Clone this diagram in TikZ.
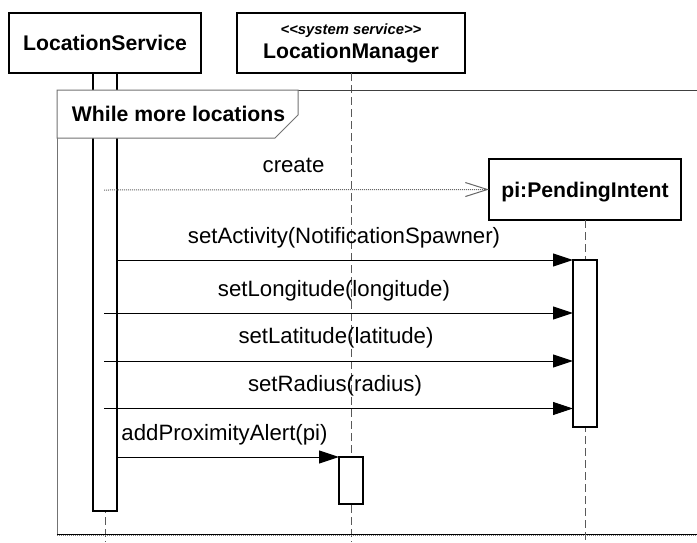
\documentclass[tikz,border=0pt]{standalone}
\usepackage{fontspec}
\setmainfont{Liberation Sans}
\usetikzlibrary{arrows.meta}
\begin{document}
\begin{tikzpicture}[x=1pt,y=-1pt,
  every node/.style={inner sep=0pt, outer sep=0pt},
  lifebox/.style={draw=black, line width=1.1pt, fill=white, text height=15pt, text depth=0pt,
    font=\fontsize{21.2}{24}\selectfont\bfseries},
  actbar/.style={draw=black, line width=1.1pt, fill=white, minimum width=24pt},
  lifeline/.style={draw=black!65, line width=1pt, dash pattern=on 8pt off 4pt},
  msg/.style={draw=black, line width=1pt, -{Triangle[length=20pt,width=13pt]}},
  createmsg/.style={draw=black!60, line width=1pt, dash pattern=on 1pt off 1pt,
    -{Straight Barb[length=22pt,width=14pt,line width=1pt]}},
  lbl/.style={anchor=base, font=\fontsize{22.2}{25}\selectfont},
  framebox/.style={draw=black!55, line width=1pt},
]
\useasboundingbox (0,0) rectangle (697,542);
\fill[white] (0,0) rectangle (697,542);

% lifeline heads
\node[lifebox, minimum width=192pt, minimum height=60pt] (ls) at (105,43) {LocationService};
\node[lifebox, minimum width=228pt, minimum height=60pt] (lm) at (351,43) {};
\node[anchor=base, font=\fontsize{14.8}{17}\selectfont\bfseries\itshape] (lmst) at (351,34.5)
  {<\kern0pt<system service>\kern0pt>};
\node[anchor=base, font=\fontsize{21.2}{24}\selectfont\bfseries] (lmname) at (351,58) {LocationManager};

% coordinates on the lifelines
\coordinate (lsend) at (105,542);
\coordinate (lmend) at (351,542);
\coordinate (piend) at (585,542);

% dashed lifelines
\draw[lifeline] (ls.south) -- (lsend);
\draw[lifeline] (lm.south) -- (lmend);

% activation bar of LocationService
\node[actbar, anchor=north, minimum height=438pt] (actls) at (ls.south) {};

% combined fragment frame
\coordinate (frTL) at (57,90);
\coordinate (frTR) at (697,90);
\coordinate (frBL) at (57,535);
\coordinate (frBR) at (697,535);
\draw[framebox] (frBL) -- (frTL);
\draw[draw=black!75, line width=1pt] (frTL) -- (frTR);
\draw[draw=black, line width=1.2pt] ([yshift=0.7pt]frBL) -- ([yshift=0.7pt]frBR);
\draw[draw=black!50, line width=1pt, dash pattern=on 1pt off 1pt] ([yshift=-0.9pt]frBL) -- ([yshift=-0.9pt]frBR);

% fragment label
\filldraw[framebox, fill=white] (frTL) -- (298,90) -- (298,115) -- (275,138) -- (57,138) -- cycle;
\node[anchor=base, font=\fontsize{21.2}{24}\selectfont\bfseries] (loop) at (178.5,121.5) {While more locations};

% created object
\node[lifebox, minimum width=192pt, minimum height=61pt] (pi) at (585,189.5) {pi:PendingIntent};
\draw[lifeline] (pi.south) -- (piend);
\node[actbar, anchor=north, minimum height=167pt] (actpi) at (585,260) {};

% LocationManager activation
\node[actbar, anchor=north, minimum height=47pt] (actlm) at (351,457) {};

% messages
\coordinate (mcreate) at (104,190);
\draw[createmsg] (mcreate) -- (pi.west);
\node[lbl] (tcreate) at (293.5,172) {create};

\draw[msg] (actpi.north west -| actls.east) -- (actpi.north west);
\node[lbl] (tact) at (344,243) {setActivity(NotificationSpawner)};

\coordinate (mlon) at (104,313);
\draw[msg] (mlon) -- (mlon -| actpi.west);
\node[lbl] (tlon) at (334,296) {setLongitude(longitude)};

\coordinate (mlat) at (104,361);
\draw[msg] (mlat) -- (mlat -| actpi.west);
\node[lbl] (tlat) at (336,343.5) {setLatitude(latitude)};

\coordinate (mrad) at (104,408.5);
\draw[msg] (mrad) -- (mrad -| actpi.west);
\node[lbl] (trad) at (335,391) {setRadius(radius)};

\draw[msg] (actlm.north west -| actls.east) -- (actlm.north west);
\node[lbl] (tprox) at (224.5,440) {addProximityAlert(pi)};
\end{tikzpicture}
\end{document}
